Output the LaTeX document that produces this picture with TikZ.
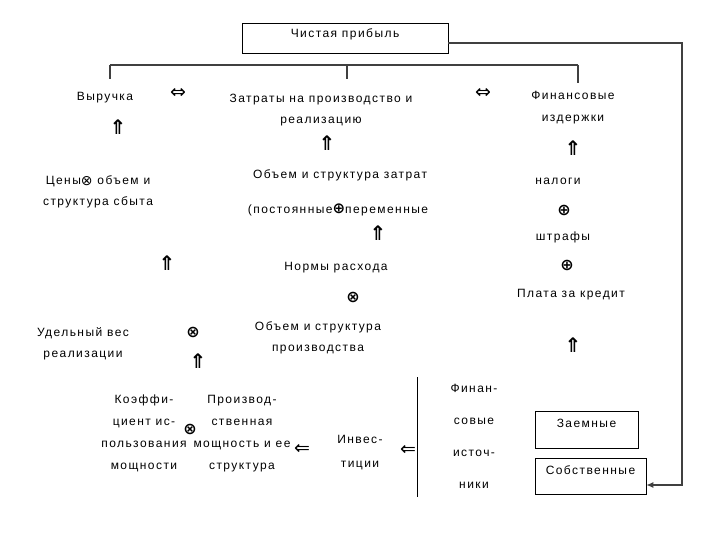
\documentclass[tikz,border=0pt]{standalone}
\usepackage{fontspec}
\usetikzlibrary{arrows.meta}
\setmainfont[LetterSpace=12]{Liberation Sans}
\newfontfamily\symf{DejaVu Sans}
\tikzset{
  txt/.style={font=\fontsize{12}{21.5}\selectfont, inner sep=0pt, align=center},
  sym/.style={font=\symf\fontsize{19}{19}\selectfont, inner sep=0pt},
  bsym/.style={font=\symf\bfseries\fontsize{16}{16}\selectfont, inner sep=0pt},
  uparr/.style={font=\symf\bfseries\fontsize{20}{20}\selectfont, inner sep=0pt},
  framebox/.style={draw, line width=0.6pt, font=\fontsize{12}{14}\selectfont,
    inner xsep=2pt, text height=9pt},
  bus/.style={draw=black!75, line width=1.2pt}
}
\begin{document}
\begin{tikzpicture}[x=1pt, y=-1pt]
    \useasboundingbox (0,0) rectangle (720,540);
    % top
    \node[framebox, minimum width=206pt, text depth=10pt, inner ysep=5.5pt] (profit) at (345,38) {Чистая прибыль};
    \coordinate (busL) at (110,65);
    \coordinate (busM) at (347,65);
    \coordinate (busR) at (578,65);
    \coordinate (rturn) at (682,200);
    % first row
    \node[txt] (revenue) at (105,98) {Выручка};
    \node[txt] (costs) at (321,110) {Затраты на производство и\\реализацию};
    \node[txt] (fincost) at (573,107.5) {Финансовые\\издержки};
    \node[sym] (eq1) at (178,93) {⇔};
    \node[sym] (eq2) at (483,93) {⇔};
    % factors
    \node[txt] (prices) at (98,192) {Цены{\symf\fontsize{14}{14}\selectfont\raisebox{-1pt}{⊗}} объем и\\структура сбыта};
    \node[txt] (volcost) at (340,175) {Объем и структура затрат};
    \node[txt] (fixvar) at (338,210) {(постоянные{\symf\bfseries\fontsize{15}{15}\selectfont ⊕}переменные};
    \node[txt] (taxes) at (558,181) {налоги};
    \node[txt] (fines) at (563,237) {штрафы};
    \node[txt] (norms) at (336,268) {Нормы расхода};
    \node[txt] (credit) at (571,295) {Плата за кредит};
    \node[txt] (share) at (83,344) {Удельный вес\\реализации};
    \node[txt] (volprod) at (318,338) {Объем и структура\\производства};
    \foreach \n/\x/\y in {plus1/564/210, plus2/567/265}
      \node[bsym] (\n) at (\x,\y) {⊕};
    \foreach \n/\x/\y in {times1/353/297, times2/193/332, times3/190/429}
      \node[bsym] (\n) at (\x,\y) {⊗};
    \foreach \n/\x/\y in {up1/118/127, up2/327/143, up3/573/148, up4/378/233, up5/167/263, up6/198/361, up7/573/345}
      \node[uparr] (\n) at (\x,\y) {⇑};
    % bottom
    \node[txt, font=\fontsize{12}{22}\selectfont] (coef) at (144,433) {Коэффи-\\циент ис-\\пользования\\мощности};
    \node[txt, font=\fontsize{12}{22}\selectfont] (capacity) at (242,434) {Производ-\\ственная\\мощность и ее\\структура};
    \node[sym] (left1) at (302,449) {⇐};
    \node[txt, font=\fontsize{12}{24}\selectfont] (invest) at (360,453) {Инвес-\\тиции};
    \node[sym] (left2) at (408,450) {⇐};
    \coordinate (sepT) at (417,377);
    \coordinate (sepB) at (417,497);
    \node[txt, font=\fontsize{12}{32}\selectfont] (finsrc) at (474,436) {Финан-\\совые\\источ-\\ники};
    \node[framebox, minimum width=103pt, text depth=14pt, inner ysep=7pt] (loans) at (586.5,429.5) {Заемные};
    \node[framebox, minimum width=111pt, text depth=12pt, inner ysep=7.5pt] (own) at (590.5,476) {Собственные};
    % connectors
    \draw[bus] (busL) -- (busR);
    \draw[bus] (busL) -- (busL |- 0,79);
    \draw[bus] (busM) -- (busM |- 0,79);
    \draw[bus] (busR) -- (busR |- 0,83);
    \draw[line width=1pt] (sepT) -- (sepB);
    \draw[bus, -{Latex[length=7pt,width=6pt]}] ([yshift=-5pt]profit.east) -| (rturn) |- ([yshift=-9pt]own.east);
\end{tikzpicture}
\end{document}
